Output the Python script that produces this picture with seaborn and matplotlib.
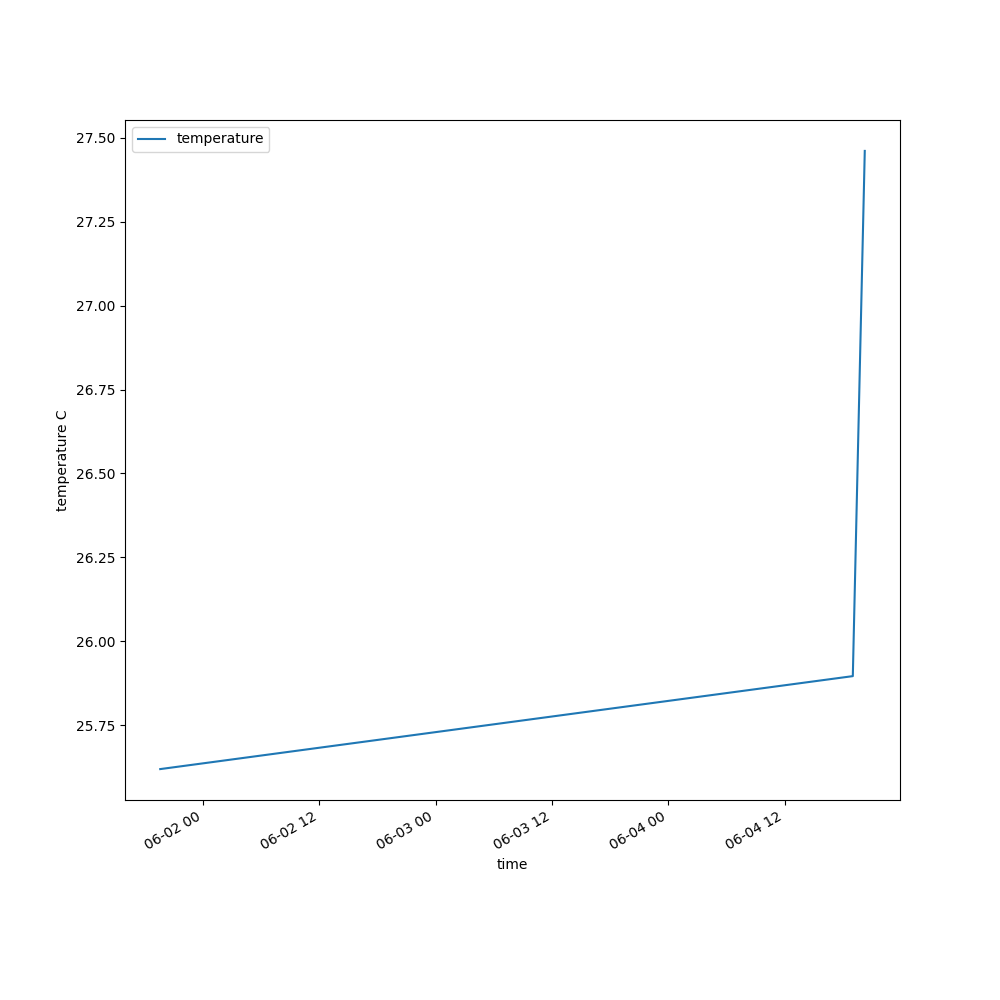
import pandas as pd
import seaborn as sns
import matplotlib
matplotlib.use("Agg")
import matplotlib.pyplot as plt

# readings
times = ["2021-06-01 19:36", "2021-06-04 19:02", "2021-06-04 20:16"]
temperature = [25.619, 25.896, 27.461]

df = pd.DataFrame({"time": pd.to_datetime(times), "temperature": temperature})

fig, ax = plt.subplots(figsize=(10, 10), dpi=100)
sns.lineplot(data=df, x="time", y="temperature", label="temperature", ax=ax)
ax.set_xlabel("time")
ax.set_ylabel("temperature C")
ax.legend(loc="upper left")
fig.autofmt_xdate()
fig.savefig("out.png")
